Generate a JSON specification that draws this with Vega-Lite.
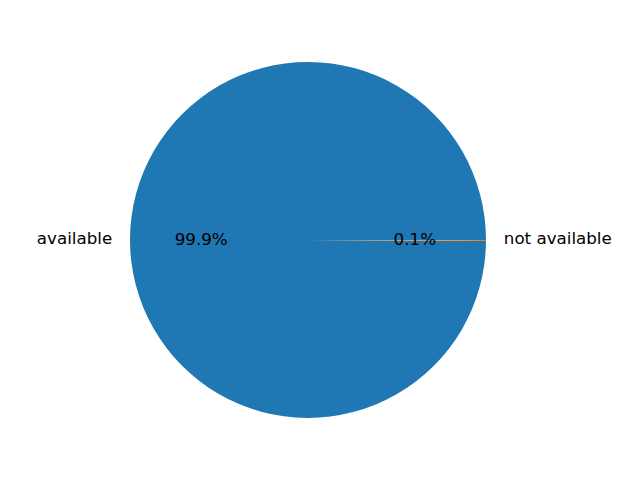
{
  "$schema": "https://vega.github.io/schema/vega-lite/v6.json",
  "width": 616,
  "height": 480,
  "padding": 0,
  "autosize": "none",
  "background": "white",
  "config": {"view": {"stroke": null}, "font": "DejaVu Sans"},
  "data": {"values": [
    {"status": "available", "share": 0.999},
    {"status": "not available", "share": 0.001}
  ]},
  "encoding": {
    "theta": {"field": "share", "type": "quantitative", "stack": true, "scale": {"range": [1.5707963, -4.712389]}},
    "color": {"field": "status", "type": "nominal", "legend": null, "scale": {"domain": ["available", "not available"], "range": ["#1f77b4", "#ff7f0e"]}}
  },
  "layer": [
    {"mark": {"type": "arc", "radius": 178}},
    {"mark": {"type": "text", "radius": 106.8, "fontSize": 16.7, "color": "black"},
     "encoding": {"text": {"field": "share", "type": "quantitative", "format": ".1%"}, "color": {"value": "black"}}},
    {"transform": [{"filter": "datum.status == 'available'"}],
     "mark": {"type": "text", "radius": 195.8, "fontSize": 16.7, "align": "right", "color": "black"},
     "encoding": {"text": {"field": "status"}, "color": {"value": "black"}}},
    {"transform": [{"filter": "datum.status == 'not available'"}],
     "mark": {"type": "text", "radius": 195.8, "fontSize": 16.7, "align": "left", "color": "black"},
     "encoding": {"text": {"field": "status"}, "color": {"value": "black"}}}
  ]
}
